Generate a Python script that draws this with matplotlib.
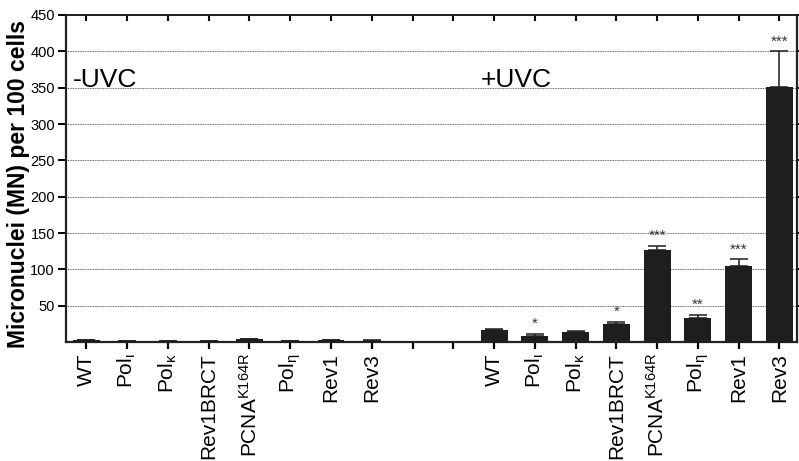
import matplotlib
matplotlib.use("Agg")
import matplotlib.pyplot as plt
import numpy as np

plt.rcParams['font.family'] = ['Liberation Sans', 'DejaVu Sans']
plt.rcParams['mathtext.fontset'] = 'custom'
plt.rcParams['mathtext.rm'] = 'Liberation Sans'
plt.rcParams['mathtext.it'] = 'Liberation Sans:italic'
plt.rcParams['mathtext.bf'] = 'Liberation Sans:bold'

categories = ['WT', r'Pol$_\mathrm{ι}$', r'Pol$_\mathrm{κ}$', 'Rev1BRCT',
              r'PCNA$^\mathrm{K164R}$', r'Pol$_\mathrm{η}$', 'Rev1', 'Rev3']
minus_uvc = [3, 1, 1.5, 1, 4, 1, 3, 2]
minus_err = [0.5, 0.3, 0.3, 0.3, 0.6, 0.3, 0.5, 0.4]
plus_uvc = [17, 8, 14, 25, 126, 33, 105, 351]
plus_err = [1, 3.5, 1.5, 3, 6.5, 4, 9, 49]
plus_stars = ['', '*', '', '*', '***', '**', '***', '***']
yticks = [50, 100, 150, 200, 250, 300, 350, 400, 450]

fig = plt.figure(figsize=(7.99, 4.61), dpi=100)
ax = fig.add_axes([0.0826, 0.258, 0.9154, 0.7095])

n = len(categories)
x_minus = np.arange(n)
x_plus = np.arange(n) + n + 2
bar_color = '#1e1e1e'
w = 0.66

ax.bar(x_minus, minus_uvc, width=w, color=bar_color, zorder=3)
ax.errorbar(x_minus, minus_uvc, yerr=[np.zeros(n), minus_err], fmt='none',
            ecolor=bar_color, elinewidth=1.1, capsize=6.5, capthick=1.1, zorder=3)
ax.bar(x_plus, plus_uvc, width=w, color=bar_color, zorder=3)
ax.errorbar(x_plus, plus_uvc, yerr=[np.zeros(n), plus_err], fmt='none',
            ecolor=bar_color, elinewidth=1.1, capsize=6.5, capthick=1.1, zorder=3)

for xi, v, e, s in zip(x_plus, plus_uvc, plus_err, plus_stars):
    if s:
        ax.text(xi, v + e + 4, s, ha='center', va='bottom', fontsize=11, color='#333333')

ax.text(-0.33, 360, '-UVC', fontsize=19, va='center', ha='left')
ax.text(9.67, 360, '+UVC', fontsize=19, va='center', ha='left')

all_x = np.arange(2 * n + 2)
labels = categories + ['', ''] + categories
ax.set_xticks(all_x)
ax.set_xticklabels(labels, rotation=90, fontsize=15)
ax.set_xlim(-0.5, 17.44)
ax.set_ylim(0, 450)
ax.set_yticks(yticks)
ax.set_yticklabels([str(t) for t in yticks], fontsize=10.5)
ax.yaxis.grid(True, linestyle=(0, (1, 1)), color='#333333', linewidth=0.6, zorder=0)

for side in ['left', 'bottom', 'top', 'right']:
    ax.spines[side].set_linewidth(1.6)
    ax.spines[side].set_color('#222222')
ax.spines['top'].set_linewidth(1.3)

ax.tick_params(axis='x', which='both', direction='out', length=5, width=1.6,
               bottom=True, top=False, pad=3)
sec = ax.secondary_xaxis('top')
sec.set_xticks(all_x, labels=[''] * len(all_x))
sec.tick_params(direction='in', length=4, width=1.5)
sec.spines['top'].set_linewidth(1.3)
sec.spines['top'].set_color('#222222')
ax.tick_params(axis='y', direction='out', length=6, width=1.4, right=True, pad=2)

ax.set_ylabel('Micronuclei (MN) per 100 cells', fontsize=16.5, fontweight='bold')
ax.yaxis.set_label_coords(-0.049, 0.482)

fig.savefig('out.png', dpi=100)
